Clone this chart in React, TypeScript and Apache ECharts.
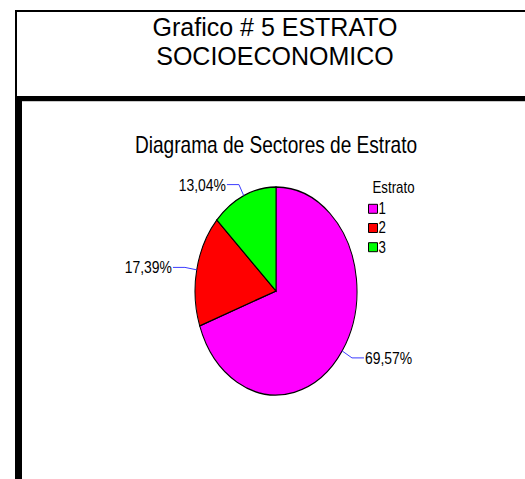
import React, { useEffect, useRef } from "react";
import * as echarts from "echarts";

const categories = ["1", "2", "3"];
const counts = [16, 4, 3];
const colors = ["#ff00ff", "#ff0000", "#00ff00"];
const titleLines = ["Grafico # 5 ESTRATO", "SOCIOECONOMICO"];
const subtitle = "Diagrama de Sectores de Estrato";
const legendTitle = "Estrato";

const FONT = '"Liberation Sans", Arial, sans-serif';
const NARROW = 0.83;

export default function App() {
  const ref = useRef<HTMLDivElement>(null);
  useEffect(() => {
    document.body.style.margin = "0";
    const chart = echarts.init(ref.current!, null, { renderer: "svg" });

    const total = counts.reduce((a, b) => a + b, 0);
    const cum: number[] = [];
    counts.reduce((acc, v, i) => {
      cum[i] = acc;
      return acc + v;
    }, 0);

    const CX = 276;
    const CY = 291;
    const RX = 81;
    const RY = 104;

    const renderItem = (params: any, api: any) => {
      const i = params.dataIndex;
      const v = api.value(0);
      const start = -Math.PI / 2 + (2 * Math.PI * cum[i]) / total;
      const end = start + (2 * Math.PI * v) / total;
      const mid = (start + end) / 2;
      const dx = Math.cos(mid);
      const dy = Math.sin(mid);
      const p0 = [CX + RX * dx, CY + RY * dy];
      const p1 = [CX + (RX + 12) * dx, CY + (RY + 12) * dy];
      const right = dx >= 0;
      const p2 = [p1[0] + (right ? 12 : -12), p1[1]];
      const pct = ((v / total) * 100).toFixed(2).replace(".", ",") + "%";
      return {
        type: "group",
        children: [
          {
            type: "group",
            x: CX,
            y: CY,
            scaleY: RY / RX,
            children: [
              {
                type: "sector",
                shape: { cx: 0, cy: 0, r: RX, r0: 0, startAngle: start, endAngle: end, clockwise: true },
                style: { fill: colors[i], stroke: "#000", lineWidth: 1, strokeNoScale: true },
              },
            ],
          },
          {
            type: "polyline",
            shape: { points: [p0, p1, p2] },
            style: { stroke: "#3c3cff", lineWidth: 1, fill: null },
          },
          {
            type: "text",
            x: p2[0] + (right ? 1 : -1),
            y: p2[1],
            scaleX: 0.82,
            style: {
              text: pct,
              x: 0,
              y: 0,
              fill: "#000",
              fontSize: 17,
              fontFamily: FONT,
              align: right ? "left" : "right",
              verticalAlign: "middle",
            },
          },
        ],
      };
    };

    const legendElems: any[] = [
      {
        type: "text",
        x: 372.5,
        y: 187.5,
        scaleX: NARROW,
        style: { text: legendTitle, x: 0, y: 0, fill: "#000", fontSize: 16, fontFamily: FONT, align: "left", verticalAlign: "middle" },
      },
    ];
    categories.forEach((c, i) => {
      const cy = 208.8 + i * 19.2;
      legendElems.push({
        type: "rect",
        shape: { x: 368.5, y: cy - 4.5, width: 9, height: 9 },
        style: { fill: colors[i], stroke: "#000", lineWidth: 1 },
      });
      legendElems.push({
        type: "text",
        x: 378.5,
        y: cy,
        scaleX: NARROW,
        style: { text: c, x: 0, y: 0, fill: "#000", fontSize: 16, fontFamily: FONT, align: "left", verticalAlign: "middle" },
      });
    });

    const option: any = {
      animation: false,
      backgroundColor: "#fff",
      graphic: {
        elements: [
          {
            type: "rect",
            shape: { x: 16, y: 11, width: 600, height: 86 },
            style: { fill: "none", stroke: "#000", lineWidth: 2 },
          },
          { type: "rect", shape: { x: 15, y: 96, width: 520, height: 5 }, style: { fill: "#000" } },
          { type: "rect", shape: { x: 22, y: 101, width: 510, height: 1 }, style: { fill: "#c8c8c8" } },
          { type: "rect", shape: { x: 15, y: 96, width: 7, height: 400 }, style: { fill: "#000" } },
          {
            type: "text",
            x: 275,
            y: 41.6,
            style: {
              text: titleLines.join("\n"),
              fill: "#000",
              fontSize: 25,
              lineHeight: 29,
              fontFamily: FONT,
              align: "center",
              verticalAlign: "middle",
            },
          },
          {
            type: "text",
            x: 276,
            y: 145,
            scaleX: NARROW,
            style: { text: subtitle, x: 0, y: 0, fill: "#000", fontSize: 23, fontFamily: FONT, align: "center", verticalAlign: "middle" },
          },
          ...legendElems,
        ],
      },
      series: [
        {
          type: "custom",
          coordinateSystem: "none",
          silent: true,
          renderItem,
          data: counts.map((v, i) => ({ value: [v], name: categories[i] })),
        },
      ],
    };
    chart.setOption(option);
    return () => chart.dispose();
  }, []);
  return <div ref={ref} style={{ width: 525, height: 479 }} />;
}
